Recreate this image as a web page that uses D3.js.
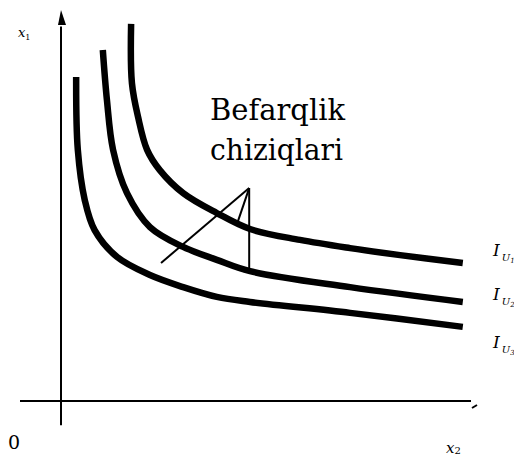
<!DOCTYPE html>
<html>
<head>
<meta charset="utf-8">
<script src="https://cdn.jsdelivr.net/npm/d3@7"></script>
<style>
  body { margin: 0; background: #fff; }
  svg { display: block; }
</style>
</head>
<body>
<div id="chart"></div>
<script>
// indifference curves, in axis units (0..10 on each axis)
var curve1 = [[0.37, 8.31], [0.41, 6.44], [0.58, 5.15], [0.82, 4.38], [1.37, 3.69], [2.17, 3.23],
              [2.98, 2.92], [3.80, 2.67], [4.61, 2.54], [7.05, 2.26], [9.80, 1.90]]
var curve2 = [[1.02, 9.00], [1.12, 7.72], [1.27, 6.44], [1.61, 5.33], [2.17, 4.46], [2.98, 3.95],
              [3.80, 3.62], [4.61, 3.33], [7.05, 2.92], [9.80, 2.54]]
var curve3 = [[1.71, 9.67], [1.73, 8.15], [1.88, 7.28], [2.10, 6.44], [2.41, 5.92], [2.98, 5.33],
              [3.80, 4.82], [4.61, 4.41], [5.83, 4.13], [7.05, 3.92], [8.27, 3.74], [9.80, 3.54]]
var curveLabels = ["1", "2", "3"]
var labelY = [3.72, 2.59, 1.36]
var titleLines = ["Befarqlik", "chiziqlari"]
// pointer: apex, then the three ends
var pointerApex = [4.59, 5.46]
var pointerEnds = [[2.44, 3.54], [4.29, 4.53], [4.59, 3.28]]

var width = 514
var height = 456
var serif = 'DejaVu Serif, Liberation Serif, serif'

var x = d3.scaleLinear().domain([0, 10]).range([61, 471])
var y = d3.scaleLinear().domain([0, 10]).range([401, 11])

var svg = d3.select('#chart')
  .append('svg')
  .attr('width', width)
  .attr('height', height)
  .style('font-family', serif)

/* axes */
svg.append('line')
  .attr('x1', x(-1)).attr('x2', x(10))
  .attr('y1', y(0)).attr('y2', y(0))
  .attr('stroke', '#000').attr('stroke-width', 2)
svg.append('line')
  .attr('x1', x(10) + 1).attr('x2', x(10) + 6)
  .attr('y1', y(0) + 7).attr('y2', y(0) + 4)
  .attr('stroke', '#000').attr('stroke-width', 2)

svg.append('line')
  .attr('x1', x(0)).attr('x2', x(0))
  .attr('y1', y(-0.62)).attr('y2', y(9.6))
  .attr('stroke', '#000').attr('stroke-width', 2)
svg.append('path')
  .attr('d', 'M' + x(0) + ',' + (y(10) - 1) +
    'L' + (x(0) + 5) + ',' + (y(10) + 14) +
    'L' + (x(0) - 3) + ',' + (y(10) + 14) + 'Z')
  .attr('fill', '#000')

svg.append('text')
  .attr('x', 18).attr('y', 37)
  .style('font-style', 'italic')
  .style('font-size', '13px')
  .text('x')
  .append('tspan').style('font-size', '8px').style('font-style', 'normal').attr('dy', 3).text('1')

svg.append('text')
  .attr('x', 8).attr('y', 449)
  .style('font-size', '19px')
  .text('0')

svg.append('text')
  .attr('x', 446).attr('y', 453)
  .style('font-style', 'italic')
  .style('font-size', '15px')
  .text('x')
  .append('tspan').style('font-size', '10px').style('font-style', 'normal').attr('dy', 1).text('2')

/* curves */
var line = d3.line()
  .curve(d3.curveCatmullRom.alpha(0.5))
  .x(function(d) { return x(d[0]) })
  .y(function(d) { return y(d[1]) })

svg.selectAll('.curve')
  .data([curve1, curve2, curve3])
  .enter()
  .append('path')
  .attr('class', 'curve')
  .attr('d', line)
  .attr('fill', 'none')
  .attr('stroke', '#000')
  .attr('stroke-width', 6.5)

/* curve labels */
var lab = svg.selectAll('.lab')
  .data(curveLabels)
  .enter()
  .append('text')
  .attr('class', 'lab')
  .attr('x', 493)
  .attr('y', function(d, i) { return y(labelY[i]) })
  .style('font-style', 'italic')
  .style('font-size', '17px')
lab.append('tspan').text('I')
lab.append('tspan').style('font-size', '10px').attr('dx', 2).attr('dy', 5).text('U')
lab.append('tspan').style('font-size', '7px').attr('dy', 2).text(function(d) { return d })

/* title */
svg.selectAll('.title')
  .data(titleLines)
  .enter()
  .append('text')
  .attr('class', 'title')
  .attr('x', 210)
  .attr('y', function(d, i) { return 120 + i * 40 })
  .style('font-size', '29px')
  .attr('textLength', function(d, i) { return i == 0 ? 135 : 133 })
  .attr('lengthAdjust', 'spacingAndGlyphs')
  .text(function(d) { return d })

/* pointer lines */
svg.selectAll('.ptr')
  .data(pointerEnds)
  .enter()
  .append('line')
  .attr('class', 'ptr')
  .attr('x1', x(pointerApex[0])).attr('y1', y(pointerApex[1]))
  .attr('x2', function(d) { return x(d[0]) })
  .attr('y2', function(d) { return y(d[1]) })
  .attr('stroke', '#000')
  .attr('stroke-width', 2)
</script>
</body>
</html>
